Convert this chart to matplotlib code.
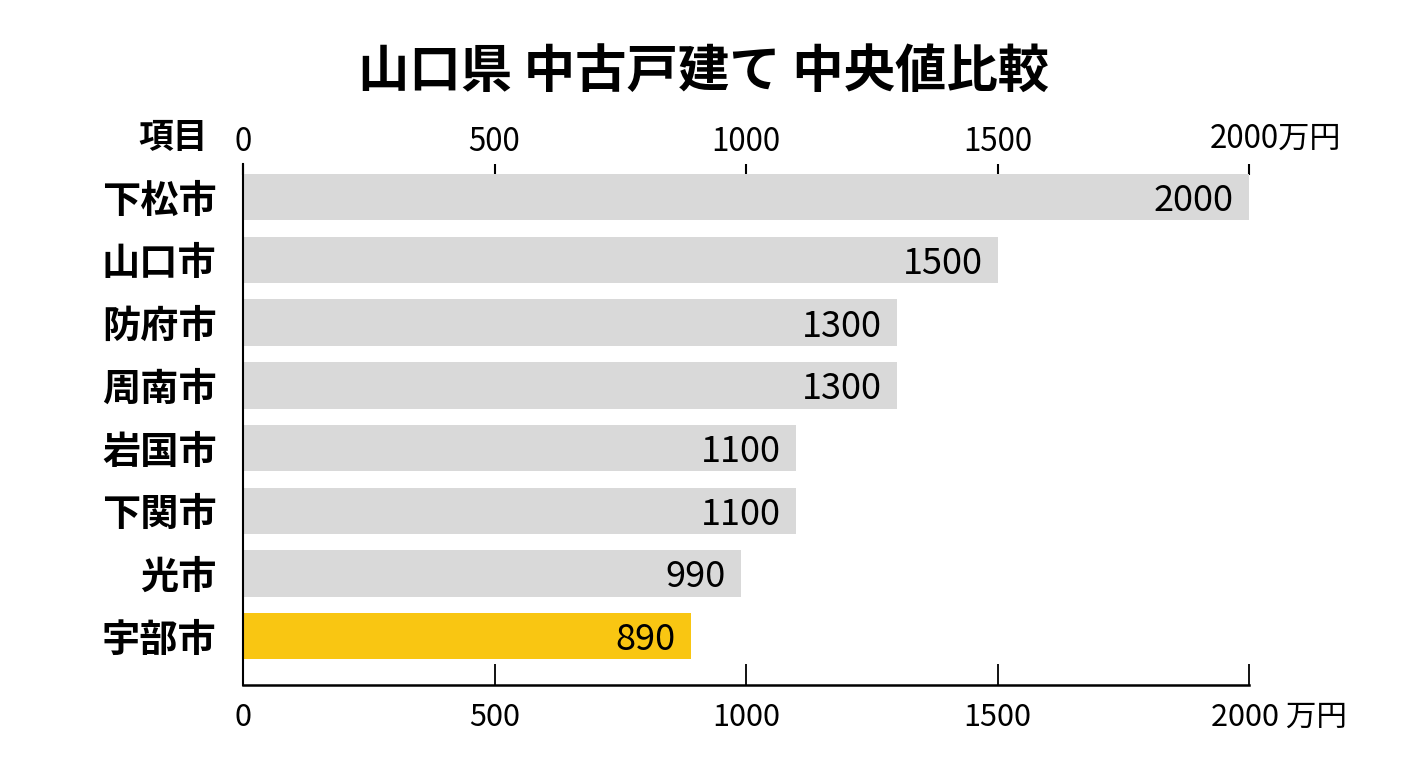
import matplotlib
matplotlib.use("Agg")
import matplotlib.pyplot as plt
from matplotlib.transforms import offset_copy

plt.rcParams['font.family'] = ['Noto Sans CJK JP', 'DejaVu Sans']

# data
cities = ["下松市", "山口市", "防府市", "周南市", "岩国市", "下関市", "光市", "宇部市"]
values = [2000, 1500, 1300, 1300, 1100, 1100, 990, 890]
highlight = "宇部市"
ticks = [0, 500, 1000, 1500, 2000]
title = "山口県 中古戸建て 中央値比較"
unit = "万円"

gray = "#d9d9d9"
yellow = "#f9c612"

W, H = 1408, 768
fig = plt.figure(figsize=(W / 100, H / 100), dpi=100)
# axes box in pixels: x 243..1249, y 164..685
ax = fig.add_axes([243 / W, 1 - 685 / H, (1249 - 243) / W, (685 - 164) / H])

ypos = list(range(len(cities)))
colors = [yellow if c == highlight else gray for c in cities]
ax.barh(ypos, values, height=0.74, color=colors, zorder=2)

ax.set_xlim(0, 2000)
ax.set_ylim(len(cities) - 1 + 0.78, -0.53)

ax.set_yticks(ypos)
ax.set_yticklabels(cities, fontsize=27.5, fontweight="bold")
ax.tick_params(axis="y", length=0, pad=19)

# bottom axis
ax.set_xticks(ticks)
ax.set_xticklabels([str(t) for t in ticks[:-1]] + [""], fontsize=22)
ax.tick_params(axis="x", direction="in", length=15, width=1.3, pad=12)

for s in ["top", "right"]:
    ax.spines[s].set_visible(False)
ax.spines["left"].set_linewidth(1.5)
ax.spines["bottom"].set_linewidth(1.8)

# top axis
ax2 = ax.secondary_xaxis("top")
ax2.set_xticks(ticks)
ax2.set_xticklabels([str(t) for t in ticks[:-1]] + [""], fontsize=22.5)
ax2.tick_params(direction="in", length=8, width=1.5, pad=4)
ax2.spines["top"].set_visible(False)

xt = ax.get_xaxis_transform()
# last tick labels with unit
ax.text(2000, 1.0, f"{ticks[-1]}{unit}", transform=offset_copy(xt, fig=fig, x=-39, y=9, units="dots"),
        fontsize=22.5, ha="left", va="bottom")
ax.text(2000, 0.0, f"{ticks[-1]} {unit}", transform=offset_copy(xt, fig=fig, x=-38, y=-32, units="dots"),
        fontsize=22, ha="left", va="center")
ax.text(0, 1.0, "項目", transform=offset_copy(xt, fig=fig, x=-35, y=9, units="dots"),
        fontsize=25, fontweight="bold", ha="right", va="bottom")

# value labels
for y, v in zip(ypos, values):
    ax.text(v, y, str(v), transform=offset_copy(ax.transData, fig=fig, x=-15, y=-4, units="dots"),
            fontsize=26, ha="right", va="center", zorder=3)

fig.text(0.5, 1 - 72 / H, title, fontsize=37, fontweight="bold", ha="center", va="center")

fig.savefig("out.png", dpi=100)
